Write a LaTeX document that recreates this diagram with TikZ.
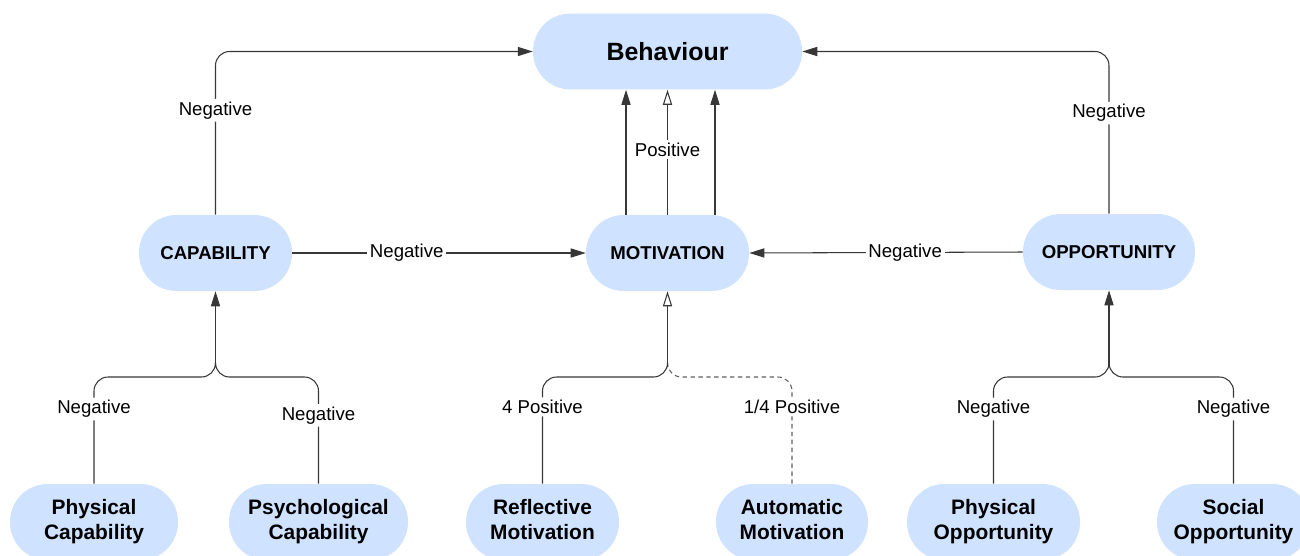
\documentclass[tikz,border=0pt]{standalone}
\usepackage{fontspec}
\setmainfont{Liberation Sans}
\usetikzlibrary{arrows.meta}
\definecolor{boxblue}{RGB}{207,226,255}
\definecolor{linegray}{RGB}{55,55,55}
\begin{document}
\begin{tikzpicture}[x=0.02cm,y=-0.02cm,
  box/.style={fill=boxblue,rounded corners=0.75cm,minimum height=1.52cm,align=center,inner sep=0pt},
  lbl/.style={fill=white,inner sep=1.5pt,font=\fontsize{10.6}{12}\selectfont},
  link/.style={draw=linegray,line width=0.6pt},
  solidtip/.style={-{Triangle[length=8.5pt,width=5.2pt]}},
  opentip/.style={-{Triangle[open,length=8.5pt,width=5.2pt]}}]
  \useasboundingbox (0,0) rectangle (1300,555);
  \clip (0,0) rectangle (1300,555);
  \node[box,minimum width=5.38cm,font=\bfseries\fontsize{14.2}{17}\selectfont] (b) at (667.5,51.5) {Behaviour};
  \begin{scope}[every node/.style={box,font=\bfseries\fontsize{10.6}{12}\selectfont}]
  \node[minimum width=3.06cm] (c) at (215.5,253) {CAPABILITY};
  \node[minimum width=3.26cm] (m) at (667.5,253) {MOTIVATION};
  \node[minimum width=3.44cm] (o) at (1109,252) {OPPORTUNITY};
  \end{scope}
  \begin{scope}[every node/.style={box,font=\bfseries\fontsize{11.9}{14.2}\selectfont}]
  \node[minimum width=3.36cm] (pc) at (94,522) {\strut Physical\\\strut Capability};
  \node[minimum width=3.58cm] (sc) at (318.5,522) {\strut Psychological\\\strut Capability};
  \node[minimum width=3.06cm] (rm) at (542.5,522) {\strut Reflective\\\strut Motivation};
  \node[minimum width=3.04cm] (am) at (792,522) {\strut Automatic\\\strut Motivation};
  \node[minimum width=3.46cm] (po) at (993.5,522) {\strut Physical\\\strut Opportunity};
  \node[minimum width=3.06cm] (so) at (1233.5,522) {\strut Social\\\strut Opportunity};
  \end{scope}
  \coordinate (hc) at (215.5,377);
  \coordinate (jc) at (215.5,367);
  \coordinate (hm) at (667.5,377);
  \coordinate (jm) at (667.5,367);
  \coordinate (ho) at (1109,377);
  \coordinate (jo) at (1109,367);
  % into behaviour
  \draw[link,solidtip,rounded corners=8] (c.north) |- node[lbl,pos=0.32] {Negative} (b.west);
  \draw[link,solidtip,rounded corners=8] (o.north) |- node[lbl,pos=0.31] {Negative} (b.east);
  \draw[link,solidtip] ([xshift=-0.83cm]m.north) -- ([xshift=-0.83cm]b.south);
  \draw[link,opentip] (m.north) -- node[lbl,pos=0.52] {Positive} (b.south);
  \draw[link,solidtip] ([xshift=0.95cm]m.north) -- ([xshift=0.95cm]b.south);
  % into motivation
  \draw[link,solidtip] (c.east) -- node[lbl,pos=0.39] {Negative} (m.west);
  \draw[link,solidtip] (o.west) -- node[lbl,pos=0.43] {Negative} (m.east);
  % components
  \draw[link,rounded corners=8] (pc.north) |- node[lbl,pos=0.35] {Negative} (hc) -- (jc);
  \draw[link,rounded corners=8] (sc.north) |- node[lbl,pos=0.32] {Negative} (hc) -- (jc);
  \draw[link,solidtip] (jc) -- (c.south);
  \draw[link,dashed,dash pattern=on 2.5pt off 2pt,draw=linegray!80,rounded corners=8] (am.north) |- node[lbl,pos=0.36] {1/4 Positive} (hm) -- (jm);
  \draw[link,rounded corners=8] (rm.north) |- node[lbl,pos=0.36] {4 Positive} (hm) -- (jm);
  \draw[link,opentip] (jm) -- (m.south);
  \draw[link,rounded corners=8] (po.north) |- node[lbl,pos=0.35] {Negative} (ho) -- (jo);
  \draw[link,rounded corners=8] (so.north) |- node[lbl,pos=0.35] {Negative} (ho) -- (jo);
  \draw[link,solidtip] (jo) -- (o.south);
\end{tikzpicture}
\end{document}
